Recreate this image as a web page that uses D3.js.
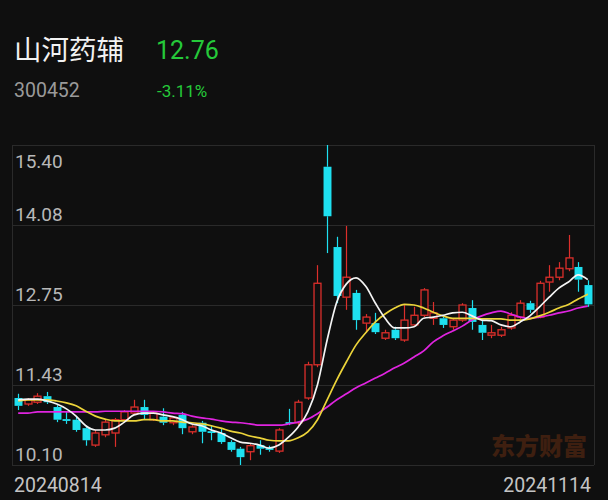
<!DOCTYPE html>
<html><head><meta charset="utf-8">
<script src="https://cdn.jsdelivr.net/npm/d3@7"></script>
<style>html,body{margin:0;padding:0;background:#0f0f0f;}svg{display:block;}</style>
</head><body><div id="chart"></div>
<script>
const stockName = "山河药辅";
const stockCode = "300452";
const lastPrice = "12.76";
const changePct = "-3.11%";
const watermark = "东方财富";

const dates = ["20240814","20240815","20240816","20240819","20240820","20240821","20240822","20240823","20240826","20240827","20240828","20240829","20240830",
"20240902","20240903","20240904","20240905","20240906","20240909","20240910","20240911","20240912","20240913","20240918","20240919","20240920","20240923","20240924","20240925","20240926","20240927","20240930",
"20241008","20241009","20241010","20241011","20241014","20241015","20241016","20241017","20241018","20241021","20241022","20241023","20241024","20241025","20241028","20241029","20241030","20241031",
"20241101","20241104","20241105","20241106","20241107","20241108","20241111","20241112","20241113","20241114"];

const opens  = [11.21,11.11,11.14,11.24,11.06,10.86,10.85,10.71,10.43,10.60,10.63,10.85,10.96,11.06,10.85,10.90,10.80,10.93,10.65,10.80,10.66,10.63,10.48,10.37,10.32,10.43,10.38,10.33,10.81,10.80,11.21,11.76,15.04,13.71,12.88,12.95,12.45,12.45,12.20,12.34,12.17,12.42,12.58,12.53,12.53,12.39,12.50,12.70,12.42,12.25,12.25,12.37,12.55,12.78,12.55,13.13,13.21,13.35,13.38,13.08];
const highs  = [11.28,11.21,11.29,11.31,11.09,10.98,10.91,10.75,10.68,10.85,10.88,11.01,11.18,11.18,10.99,11.04,10.91,10.98,10.76,10.83,10.76,10.71,10.51,10.40,10.45,10.51,10.42,10.71,11.03,11.18,11.81,13.41,15.40,13.88,14.06,13.00,12.60,12.62,12.34,12.39,12.75,12.72,13.03,12.80,12.58,12.53,12.78,12.83,12.50,12.42,12.39,12.63,12.83,12.82,13.15,13.41,13.46,13.91,13.46,13.16];
const lows   = [11.01,11.08,11.11,11.11,10.81,10.78,10.65,10.42,10.40,10.56,10.40,10.81,10.93,10.85,10.83,10.76,10.76,10.61,10.61,10.46,10.51,10.45,10.32,10.10,10.18,10.27,10.32,10.30,10.76,10.76,11.18,11.72,13.61,12.78,12.67,12.34,12.29,12.27,12.17,12.17,12.14,12.39,12.55,12.42,12.37,12.34,12.47,12.34,12.17,12.20,12.22,12.34,12.52,12.62,12.53,12.97,13.16,13.31,12.97,12.72];
const closes = [11.08,11.18,11.24,11.14,10.85,10.83,10.68,10.51,10.63,10.81,10.85,10.98,11.06,10.93,10.96,10.80,10.88,10.71,10.73,10.65,10.63,10.48,10.35,10.23,10.42,10.37,10.35,10.68,10.78,11.14,11.76,13.11,14.22,12.90,13.21,12.50,12.55,12.30,12.29,12.20,12.50,12.58,13.00,12.62,12.42,12.50,12.75,12.47,12.29,12.29,12.34,12.58,12.78,12.67,13.11,13.21,13.36,13.53,13.17,12.76];

const ma5  = [11.18,11.19,11.19,11.16,11.11,11.03,10.91,10.75,10.68,10.68,10.71,10.81,10.93,10.96,10.96,10.93,10.90,10.85,10.78,10.75,10.68,10.63,10.55,10.48,10.46,10.43,10.38,10.43,10.56,10.73,10.98,11.43,12.17,12.80,13.10,13.20,13.06,12.78,12.53,12.37,12.37,12.39,12.53,12.55,12.58,12.62,12.63,12.57,12.50,12.49,12.42,12.39,12.47,12.57,12.72,12.88,13.03,13.13,13.25,13.17];
const ma10 = [11.16,11.18,11.18,11.18,11.16,11.13,11.08,10.99,10.91,10.86,10.83,10.83,10.83,10.85,10.85,10.83,10.83,10.81,10.80,10.78,10.75,10.71,10.66,10.63,10.58,10.55,10.51,10.50,10.50,10.55,10.65,10.85,11.18,11.51,11.81,12.09,12.29,12.47,12.60,12.70,12.76,12.75,12.70,12.63,12.57,12.53,12.53,12.53,12.52,12.52,12.52,12.50,12.50,12.52,12.57,12.63,12.70,12.76,12.85,12.93];
const ma20 = [10.96,10.96,10.98,10.98,10.98,10.98,10.98,10.98,10.98,10.99,10.99,10.99,10.99,10.99,10.99,10.98,10.96,10.95,10.91,10.88,10.86,10.83,10.81,10.80,10.78,10.76,10.76,10.76,10.78,10.81,10.86,10.95,11.06,11.18,11.28,11.38,11.46,11.54,11.62,11.71,11.79,11.89,11.99,12.14,12.24,12.32,12.40,12.50,12.57,12.62,12.65,12.60,12.55,12.53,12.55,12.58,12.62,12.65,12.70,12.73];

const yTicks = [15.40, 14.08, 12.75, 11.43, 10.10];
const yTickLabels = ["15.40","14.08","12.75","11.43","10.10"];

const W = 608, H = 500;
const padL = 12, padR = 594, padT = 145, padB = 465;
const RED = "#dc2f2b", CYAN = "#1ee0f0", BG = "#0f0f0f";

const svg = d3.select("#chart").append("svg").attr("width", W).attr("height", H);
svg.append("rect").attr("width", W).attr("height", H).attr("fill", BG);

const x = d3.scaleBand().domain(dates).range([padL, padR]).padding(0.28);
const y = d3.scaleLinear().domain([10.10, 15.40]).range([padB, padT]);
const cx = d => x(d) + x.bandwidth() / 2;

// Header
svg.append("text").attr("x", 14).attr("y", 60).text(stockName)
  .attr("fill", "#f2f2f2").attr("font-family", "'Noto Sans CJK SC', sans-serif").attr("font-size", 27.5);
svg.append("text").attr("x", 156).attr("y", 59).text(lastPrice)
  .attr("fill", "#25c93a").attr("font-family", "Roboto, sans-serif").attr("font-size", 25);
svg.append("text").attr("x", 14).attr("y", 97).text(stockCode)
  .attr("fill", "#9a9a9a").attr("font-family", "Roboto, sans-serif").attr("font-size", 19.5);
svg.append("text").attr("x", 157).attr("y", 97).text(changePct)
  .attr("fill", "#25c93a").attr("font-family", "Roboto, sans-serif").attr("font-size", 17);

// Grid + frame
svg.append("g").selectAll("line").data(yTicks).join("line")
  .attr("x1", padL).attr("x2", padR)
  .attr("y1", d => Math.round(y(d)) + 0.5).attr("y2", d => Math.round(y(d)) + 0.5)
  .attr("stroke", "#2a2a2a").attr("stroke-width", 1);
svg.append("line").attr("x1", padL + 0.5).attr("x2", padL + 0.5).attr("y1", padT).attr("y2", padB).attr("stroke", "#2a2a2a");
svg.append("line").attr("x1", padR + 0.5).attr("x2", padR + 0.5).attr("y1", padT).attr("y2", padB).attr("stroke", "#2a2a2a");

// Y labels
svg.append("g").selectAll("text").data(yTicks).join("text")
  .attr("x", 15)
  .attr("y", (d, i) => i === 0 ? y(d) + 23 : y(d) - 4)
  .text((d, i) => yTickLabels[i])
  .attr("fill", "#b8b8b8").attr("font-family", "Roboto, sans-serif").attr("font-size", 19);

// Watermark
svg.append("text").attr("x", 587).attr("y", 455).attr("text-anchor", "end").text(watermark)
  .attr("fill", "#3e1f10").attr("font-family", "'Noto Sans CJK SC', sans-serif")
  .attr("font-weight", 900).attr("font-size", 24);

// Date labels
svg.append("text").attr("x", 14).attr("y", 492).text(dates[0])
  .attr("fill", "#c4c4c4").attr("font-family", "Roboto, sans-serif").attr("font-size", 19.5);
svg.append("text").attr("x", 591).attr("y", 492).attr("text-anchor", "end").text(dates[dates.length - 1])
  .attr("fill", "#c4c4c4").attr("font-family", "Roboto, sans-serif").attr("font-size", 19.5);

// Candles
const candles = dates.map((d, i) => ({d, o: opens[i], h: highs[i], l: lows[i], c: closes[i]}));
const g = svg.append("g");
candles.forEach(k => {
  const up = k.c >= k.o;
  const col = up ? RED : CYAN;
  const xc = Math.round(cx(k.d)) + 0.5;
  const bt = y(Math.max(k.o, k.c)), bb = y(Math.min(k.o, k.c));
  g.append("line").attr("x1", xc).attr("x2", xc).attr("y1", y(k.h)).attr("y2", bt)
    .attr("stroke", col).attr("stroke-width", 1.2);
  g.append("line").attr("x1", xc).attr("x2", xc).attr("y1", bb).attr("y2", y(k.l))
    .attr("stroke", col).attr("stroke-width", 1.2);
  const bw = x.bandwidth();
  const hgt = Math.max(1.2, bb - bt);
  if (up) {
    g.append("rect").attr("x", xc - bw / 2).attr("y", bt).attr("width", bw).attr("height", hgt)
      .attr("fill", BG).attr("stroke", col).attr("stroke-width", 1.3);
  } else {
    g.append("rect").attr("x", xc - bw / 2 - 0.5).attr("y", bt).attr("width", bw + 1).attr("height", hgt)
      .attr("fill", col);
  }
});

// MA lines
const line = d3.line().x((v, i) => cx(dates[i])).y(v => y(v)).curve(d3.curveMonotoneX);
[[ma20, "#e024e0"], [ma10, "#ecd43a"], [ma5, "#f4f4f4"]].forEach(([arr, col]) => {
  svg.append("path").attr("d", line(arr)).attr("fill", "none").attr("stroke", col).attr("stroke-width", 1.7);
});
</script></body></html>
